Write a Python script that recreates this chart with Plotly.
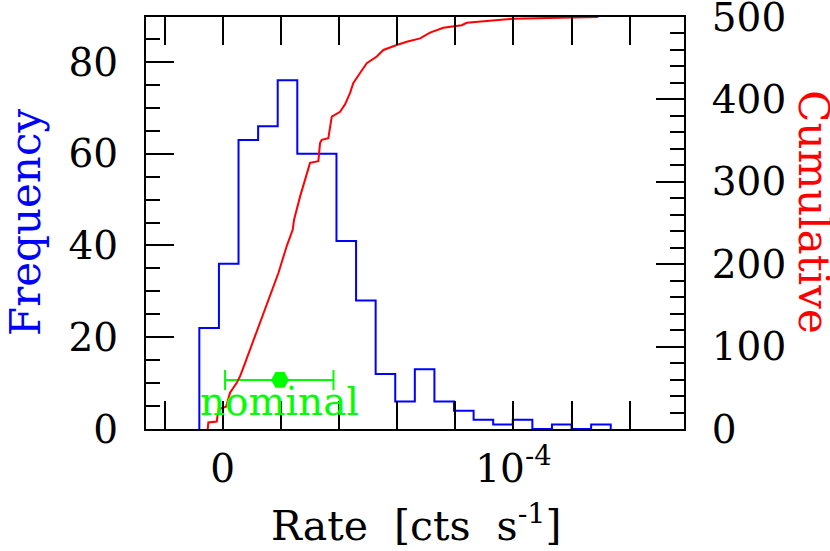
import plotly.graph_objects as go

# histogram of rates (cts/s): first bin edge, bin width, counts per bin
bin_lo = -8.05e-6
bin_width = 6.74e-6
counts = [22, 36, 63, 66, 76, 60, 60, 41, 28, 12, 6, 13, 6, 4, 2, 1, 2, 0, 1, 0, 1]

# cumulative curve
cum_rate = [-0.0516e-4, -0.0495e-4, -0.0206e-4, -0.0151e-4, 0.0114e-4, 0.0251e-4,
            0.0482e-4, 0.0595e-4, 0.0767e-4, 0.0939e-4, 0.111e-4, 0.1456e-4,
            0.1741e-4, 0.1913e-4, 0.2202e-4, 0.2409e-4, 0.2454e-4, 0.266e-4,
            0.3004e-4, 0.329e-4, 0.3348e-4, 0.3407e-4, 0.3634e-4, 0.3751e-4,
            0.4037e-4, 0.4209e-4, 0.4381e-4, 0.4494e-4, 0.4725e-4, 0.4955e-4,
            0.530e-4, 0.5527e-4, 0.5988e-4, 0.6332e-4, 0.679e-4, 0.690e-4,
            0.7134e-4, 0.7591e-4, 0.8224e-4, 0.8396e-4, 1.0e-4, 1.2925e-4]
cum_count = [0, 8, 9, 24, 27, 44, 56, 64, 80, 96, 112, 145, 173, 189, 222, 242, 254,
             282, 323, 325, 347, 351, 353, 379, 385, 394, 408, 420, 432, 444, 452,
             460, 466, 470, 474, 476, 481, 487, 490, 493, 498, 500]

# nominal rate with its range
nominal_rate = 0.197e-4
nominal_minus = 0.189e-4
nominal_plus = 0.184e-4
nominal_y = 10.7

freq_ticks = [0, 20, 40, 60, 80]
cum_ticks = [0, 100, 200, 300, 400, 500]

FONT = 'DejaVu Serif'

edges = [bin_lo + i * bin_width for i in range(len(counts) + 1)]
hx = [edges[0]] + edges[:-1] + [edges[-1]]
hy = [0] + counts + [0]

fig = go.Figure()
fig.add_trace(go.Scatter(x=hx, y=hy, mode='lines', line_shape='hv',
                         line=dict(color='#0000ff', width=2), showlegend=False))
fig.add_trace(go.Scatter(x=cum_rate, y=cum_count, mode='lines', yaxis='y2',
                         line=dict(color='#ff0000', width=2), showlegend=False))
fig.add_trace(go.Scatter(x=[nominal_rate], y=[nominal_y], mode='markers',
                         marker=dict(symbol='hexagon2', size=18, color='#00ff00'),
                         error_x=dict(type='data', symmetric=False, array=[nominal_plus],
                                      arrayminus=[nominal_minus], color='#00ff00',
                                      thickness=2, width=10),
                         showlegend=False))

fig.add_annotation(x=nominal_rate, y=6.0, text='nominal', showarrow=False,
                   font=dict(family=FONT, size=39, color='#00ff00'),
                   xanchor='center', yanchor='middle')

tick_font = dict(family=FONT, size=39, color='black')
common = dict(showgrid=False, zeroline=False, showline=True, linecolor='black', linewidth=2,
              ticks='inside', tickcolor='black', tickwidth=2, ticklen=28, tickfont=tick_font,
              ticklabeloverflow='allow', automargin=False)
minor = dict(ticks='inside', ticklen=14, tickwidth=2, tickcolor='black')

fig.update_layout(
    width=830, height=551,
    margin=dict(l=146, r=146, t=17, b=122),
    plot_bgcolor='white', paper_bgcolor='white',
    xaxis=dict(range=[-0.264e-4, 1.587e-4], tickvals=[0, 1e-4],
               ticktext=['0', '10<sup>-4</sup>'], mirror='allticks',
               minor=dict(dtick=0.2e-4, tick0=0, **minor),
               ticklabelstandoff=4, **common),
    yaxis=dict(range=[0, 89.8], tickvals=freq_ticks,
               minor=dict(dtick=5, tick0=0, **minor),
               ticklabelstandoff=18, **common),
    yaxis2=dict(range=[0, 500.001], tickvals=cum_ticks, overlaying='y', side='right',
                minor=dict(dtick=20, tick0=0, **minor),
                ticklabelstandoff=18, **common),
)

fig.add_annotation(xref='paper', yref='paper', x=-0.2249, y=0.5, text='Frequency',
                   textangle=-90, showarrow=False, xanchor='center', yanchor='middle',
                   font=dict(family=FONT, size=42, color='#0000ff'))
fig.add_annotation(xref='paper', yref='paper', x=1.2416, y=0.526, text='Cumulative',
                   textangle=90, showarrow=False, xanchor='center', yanchor='middle',
                   font=dict(family=FONT, size=42, color='#ff0000'))
fig.add_annotation(xref='paper', yref='paper', x=0.503, y=-0.227,
                   text='Rate&nbsp; [cts&nbsp; s<sup>-1</sup>]',
                   showarrow=False, xanchor='center', yanchor='middle',
                   font=dict(family=FONT, size=41, color='black'))

# drop the default body margin so the figure fills the window
fig.write_html('out.html', config=dict(displayModeBar=False),
               post_script="document.body.style.margin = '0';")
